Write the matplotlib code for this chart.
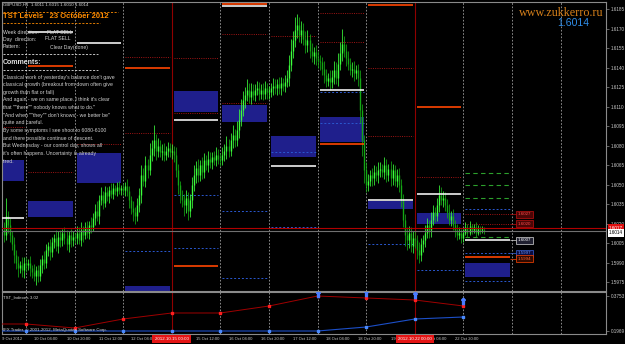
import numpy as np
import matplotlib
matplotlib.use("Agg")
import matplotlib.pyplot as plt
from matplotlib.transforms import blended_transform_factory as blend
from matplotlib.patches import Rectangle
from matplotlib.lines import Line2D

plt.rcParams['font.family'] = ['Liberation Sans', 'DejaVu Sans']

# ---------------- data ----------------
symbol_info = "GBPUSD,H1  1.6011 1.6015 1.6010 1.6014"
title_text = "TST Levels   23 October 2012"
BASE, PIP = 1.5900, 0.0001
first_bar_hour = 13          # hours counted from 9 Oct 00:00 (weekend removed)
first_open_pips = 115
close_pips = [
    111, 126, 119, 111, 104, 96, 90, 86, 88, 84, 90,
    88, 90, 86, 83, 80, 84, 80, 88, 93, 90, 100, 103, 98, 106, 109, 103, 110, 107, 113, 109, 104, 111, 107, 110,
    109, 113, 107, 115, 111, 117, 113, 119, 117, 124, 130, 126, 138, 142, 136, 144, 141, 146, 143, 147, 145, 148, 146, 147,
    146, 149, 145, 138, 132, 129, 126, 134, 142, 157, 153, 165, 161, 173, 178, 184, 176, 180, 175, 176, 173, 176, 178, 175,
    176, 173, 161, 150, 142, 138, 134, 140, 130, 138, 150, 157, 163, 157, 165, 160, 169, 165, 170, 167, 171, 169, 173, 170,
    169, 173, 176, 180, 176, 184, 188, 184, 192, 200, 207, 215, 219, 223, 217, 222, 219, 223, 224, 220, 223, 220, 224, 221,
    221, 224, 226, 224, 227, 224, 228, 226, 229, 232, 242, 253, 261, 269, 273, 265, 269, 262, 257, 261, 253, 249, 252, 247,
    245, 244, 239, 234, 230, 232, 229, 233, 238, 232, 243, 251, 258, 253, 247, 243, 238, 239, 236, 238, 232, 207, 184, 161,
    150, 153, 157, 155, 160, 157, 161, 162, 160, 165, 157, 162, 155, 161, 153, 157, 150, 138, 123, 111, 107, 113, 103, 109,
    107, 100, 96, 104, 107, 113, 119, 115, 123, 129, 126, 134, 142, 138, 140, 134, 129, 123, 126, 119, 115, 111, 113, 109,
    113, 117, 113, 118, 115, 117, 113, 116, 115, 115, 114,
]
wick_up = [
    6, 14, 4, 5, 3, 6, 4, 5, 3, 6, 4,
    4, 3, 5, 2, 6, 3, 4, 5, 3, 6, 4, 3, 5, 4, 3, 6, 4, 5, 3, 4, 6, 3, 5, 4,
    3, 5, 4, 6, 3, 4, 5, 3, 6, 4, 5, 7, 4, 6, 3, 5, 4, 3, 5, 4, 3, 4, 5, 3,
    4, 3, 5, 4, 3, 5, 4, 6, 5, 8, 6, 7, 5, 9, 6, 12, 5, 6, 4, 5, 6, 4, 5, 4,
    5, 4, 6, 5, 3, 4, 5, 6, 4, 5, 6, 8, 5, 7, 4, 6, 5, 4, 6, 5, 4, 5, 6, 4,
    4, 6, 5, 7, 5, 6, 8, 5, 7, 8, 9, 7, 6, 8, 5, 6, 5, 4, 6, 5, 4, 5, 6, 4,
    5, 4, 6, 5, 4, 6, 5, 4, 5, 6, 8, 9, 7, 10, 8, 6, 7, 5, 6, 8, 5, 6, 4, 5,
    6, 5, 4, 6, 5, 4, 6, 5, 7, 6, 8, 9, 12, 6, 5, 6, 4, 5, 6, 4, 5, 6, 5, 4,
    6, 5, 4, 6, 5, 4, 6, 5, 4, 6, 5, 4, 6, 5, 4, 5, 6, 4, 5, 4, 6, 5, 4, 5,
    5, 4, 6, 5, 4, 6, 5, 4, 6, 5, 4, 6, 8, 6, 5, 4, 5, 6, 4, 5, 4, 5, 4, 3,
    3, 4, 3, 4, 2, 3, 4, 3, 2, 3, 2,
]
wick_dn = [
    5, 4, 6, 5, 4, 6, 5, 7, 4, 5, 6,
    5, 4, 6, 5, 4, 7, 5, 4, 6, 5, 4, 5, 6, 4, 5, 4, 6, 5, 4, 5, 4, 6, 5, 4,
    4, 5, 3, 4, 5, 3, 4, 5, 4, 3, 5, 4, 6, 4, 5, 3, 4, 5, 3, 4, 3, 4, 3, 4,
    4, 5, 4, 6, 5, 7, 6, 4, 5, 6, 4, 5, 6, 4, 5, 6, 7, 5, 4, 6, 5, 4, 5, 4,
    5, 6, 5, 7, 6, 5, 8, 6, 7, 5, 6, 5, 6, 5, 4, 6, 5, 4, 5, 4, 5, 4, 5, 4,
    5, 4, 5, 6, 5, 4, 6, 5, 4, 6, 5, 4, 6, 5, 4, 5, 4, 5, 4, 5, 4, 5, 4, 5,
    5, 4, 5, 4, 5, 4, 5, 4, 5, 4, 6, 5, 6, 5, 6, 5, 6, 5, 6, 5, 6, 5, 6, 5,
    5, 6, 5, 6, 5, 4, 6, 5, 6, 5, 6, 5, 6, 5, 6, 5, 4, 5, 6, 5, 6, 10, 12, 10,
    6, 5, 4, 6, 5, 4, 6, 5, 4, 6, 5, 4, 6, 5, 4, 5, 6, 5, 6, 8, 7, 6, 5, 6,
    6, 7, 6, 5, 6, 5, 4, 6, 5, 4, 5, 4, 5, 4, 5, 4, 5, 4, 5, 4, 5, 4, 3, 4,
    3, 2, 3, 2, 3, 2, 3, 2, 3, 2, 2,
]

price_ticks = [1.6185, 1.6170, 1.6155, 1.6140, 1.6125, 1.6110, 1.6095, 1.6080,
               1.6065, 1.6050, 1.6035, 1.6020, 1.6005, 1.5990, 1.5975]
hline_red = 1.60165
hline_red_label = "1.6017"
bid_price = 1.6014
bid_label = "1.6014"

day_separators = [24, 48, 72, 96, 120, 144, 168, 192, 216, 240, 264, 288]
week_lines = [96, 216]
week_line_labels = ["2012.10.15 00:00", "2012.10.22 00:00"]

xtick_hours = [12.2, 28, 44, 60, 76, 108, 124, 140, 156, 172, 188, 204, 220, 236]
xtick_labels = ["9 Oct 2012", "10 Oct 04:00", "10 Oct 20:00", "11 Oct 12:00", "12 Oct 04:00",
                "15 Oct 12:00", "16 Oct 04:00", "16 Oct 20:00", "17 Oct 12:00",
                "18 Oct 04:00", "18 Oct 20:00", "19 Oct 12:00", "22 Oct 04:00", "22 Oct 20:00"]

# daily levels (day index 0 = 9 Oct ... 10 = 23 Oct)
white_days = [0, 1, 2, 4, 5, 6, 7, 8, 9, 10]
white_prices = [1.6024, 1.6167, 1.6159, 1.6100, 1.6187, 1.6064, 1.6123, 1.6038, 1.6043, 1.6007]
orange_days = [1, 3, 4, 5, 7, 8, 9, 10]
orange_prices = [1.6141, 1.6140, 1.5987, 1.6189, 1.6081, 1.6188, 1.6110, 1.5994]
reddot_days = [0, 1, 2, 3, 3, 4, 4, 5, 5, 6, 7, 7, 8, 8, 9, 10, 10]
reddot_prices = [1.6094, 1.6060, 1.6081, 1.6148, 1.6090, 1.6147, 1.6105, 1.6166, 1.6113,
                 1.6164, 1.6182, 1.6160, 1.6140, 1.6087, 1.6056, 1.6027, 1.6020]
bluedot_days = [3, 4, 4, 5, 5, 6, 6, 7, 7, 8, 9, 10, 10, 10]
bluedot_prices = [1.5999, 1.6042, 1.6001, 1.6030, 1.5978, 1.6075, 1.6017, 1.6121, 1.6097,
                  1.6004, 1.5984, 1.6031, 1.5997, 1.5976]
green_days = [10, 10, 10, 10]
green_prices = [1.6059, 1.6050, 1.6040, 1.6010]
box_days = [0, 1, 2, 3, 4, 5, 6, 7, 8, 9, 10]
box_tops = [1.6069, 1.6037, 1.6074, 1.5972, 1.6122, 1.6111, 1.6087, 1.6102, 1.6037, 1.6028, 1.5990]
box_bottoms = [1.6053, 1.6025, 1.6051, 1.5960, 1.6106, 1.6098, 1.6071, 1.6083, 1.6031, 1.6020, 1.5979]

tag_prices = [1.6027, 1.6020, 1.6007, 1.5997, 1.5993]
tag_texts = ["1.6027", "1.6020", "1.6007", "1.5997", "1.5994"]
tag_kinds = ["red", "red", "white", "blue", "orange"]

# indicator panel
ind_hours = [0, 24, 48, 72, 96, 120, 144, 168, 192, 216, 240]
ind_red = [0.2326, 0.2326, 0.2122, 0.2581, 0.2887, 0.2887, 0.3243, 0.3753, 0.3651, 0.3549, 0.3243]
ind_blue = [0.1969, 0.1969, 0.1969, 0.1969, 0.1969, 0.1969, 0.1969, 0.1969, 0.2173, 0.2581, 0.2683]
arrow_hours = [168, 192, 216, 240]
arrow_vals = [0.3880, 0.3920, 0.3790, 0.3480]
ind_ticks = [0.3753, 0.1969]

info_rows = [("Week direction:", "FLAT SELL"), ("Day  direction:", "FLAT SELL"),
             ("Pattern:", "Clear Day(done)")]
comment_lines = [
    "Classical work of yesterday's balance don't gave",
    "classical growth (breakout from down often give",
    "growth than flat or fall)",
    "And again - we on same place. I think it's clear",
    'that ""there"" nobody knows what to do."',
    '"And when ""they"" don\'t knows - we better be"',
    "quite and careful.",
    "By some symptoms I see shoot to 6080-6100",
    "and there possible continue of descent.",
    "But Wednesday - our control day, shows all",
    "it's often happens. Uncertainty is already",
    "tired.",
]

# ---------------- figure ----------------
W, H = 625, 344
fig = plt.figure(figsize=(W / 100, H / 100), dpi=100, facecolor='black')


def fx(x):
    return x / W


def fy(y):
    return 1 - y / H


ax = fig.add_axes([fx(2), fy(291), (606 - 2) / W, (291 - 2) / H], facecolor='black')
ax2 = fig.add_axes([fx(2), fy(334), (606 - 2) / W, (334 - 292) / H], facecolor='black')
XLIM = (12.15, 310.4)
for a in (ax, ax2):
    a.set_xlim(*XLIM)
    a.set_xticks([])
    for s in a.spines.values():
        s.set_color('#8a8a8a')
        s.set_linewidth(0.8)
    a.tick_params(axis='y', which='both', right=True, left=False, labelright=True,
                  labelleft=False, length=2, width=0.5, color='#8a8a8a',
                  labelsize=3.3, labelcolor='#c8c8c8', pad=1.2)
ax.set_ylim(1.59681, 1.61904)
ax2.set_ylim(0.1816, 0.3957)
ax.set_yticks(price_ticks)
ax.set_yticklabels([f"{p:.4f}" for p in price_ticks])
ax2.set_yticks(ind_ticks)
ax2.set_yticklabels([f"{v:.4f}" for v in ind_ticks])

# separators
for a in (ax, ax2):
    for h in day_separators:
        a.axvline(h, color='#a0a0a0', lw=0.6, ls=(0, (2, 2)), zorder=0.5)
    for h in week_lines:
        a.axvline(h, color='#900000', lw=0.8, zorder=0.6)

# boxes
for d, t, b in zip(box_days, box_tops, box_bottoms):
    ax.add_patch(Rectangle((24 * d + 1, b), 22, t - b, facecolor='#1f1f8c',
                           edgecolor='none', zorder=1))


def segs(days, prices, **kw):
    d = np.array(days)
    ax.hlines(prices, 24 * d + 1, 24 * d + 23, **kw)


segs(reddot_days, reddot_prices, colors='#a01414', lw=0.7, linestyles=[(0, (1, 1.3))], zorder=2)
segs(bluedot_days, bluedot_prices, colors='#2a58d0', lw=0.7, linestyles=[(0, (2, 2))], zorder=2)
segs(green_days, green_prices, colors='#2ca02c', lw=0.8, linestyles=[(0, (4, 3))], zorder=2)

# candles
closes = np.array(close_pips, float)
opens = np.concatenate([[first_open_pips], closes[:-1]])
hours = np.arange(first_bar_hour, first_bar_hour + len(closes))
hi = np.maximum(opens, closes) + np.array(wick_up)
lo = np.minimum(opens, closes) - np.array(wick_dn)
bull = closes >= opens
cols = np.where(bull, '#3cff3c', '#14a814')
ax.vlines(hours, BASE + lo * PIP, BASE + hi * PIP, colors=cols, lw=0.55, zorder=3)
btop = np.maximum(opens, closes)
bbot = np.minimum(opens, closes)
btop = np.where(btop - bbot < 0.6, bbot + 0.6, btop)
ax.vlines(hours, BASE + bbot * PIP, BASE + btop * PIP, colors=cols, lw=1.0, zorder=3)

# solid levels on top
segs(white_days, white_prices, colors='#f0f0f0', lw=1.2, zorder=4)
segs(orange_days, orange_prices, colors='#ff4500', lw=1.2, zorder=4)

# horizontal lines
ax.axhline(hline_red, color='#b00000', lw=0.8, zorder=4.5)
ax.axhline(bid_price, color='#707070', lw=0.8, zorder=4.4)

# level tags at right of current day
tag_style = {
    "red": ('#ff4a4a', '#4a0606', '#c01010'),
    "white": ('#ffffff', '#202030', '#d8d8d8'),
    "blue": ('#6a98ff', '#0c0c40', '#3a64d8'),
    "orange": ('#ff6030', '#300a00', '#ff4500'),
}
for p, txt, k in zip(tag_prices, tag_texts, tag_kinds):
    tc, fc, ec = tag_style[k]
    ax.hlines(p, 263, 266.3, colors=ec, lw=0.5, zorder=4)
    ax.text(266.8, p, txt, fontsize=3.2, color=tc, ha='left', va='center', zorder=6,
            bbox=dict(boxstyle='square,pad=0.35', fc=fc, ec=ec, lw=0.5))

# right axis current price tags
trR = blend(ax.transAxes, ax.transData)
ax.text(1.005, hline_red, hline_red_label, transform=trR, fontsize=3.3, color='white',
        ha='left', va='center', clip_on=False, zorder=7,
        bbox=dict(boxstyle='square,pad=0.3', fc='#e01010', ec='none'))
ax.text(1.005, bid_price - 0.00012, bid_label, transform=trR, fontsize=3.3, color='black',
        ha='left', va='center', clip_on=False, zorder=8,
        bbox=dict(boxstyle='square,pad=0.3', fc='white', ec='none'))

# indicator
ax2.plot(ind_hours, ind_red, color='#a00000', lw=0.7, marker='s', ms=1.8,
         mfc='#ff2020', mec='#ff2020', zorder=4)
ax2.plot(ind_hours, ind_blue, color='#1c4fc8', lw=0.8, marker='s', ms=1.6,
         mfc='#4a8aff', mec='#4a8aff', zorder=4)
ax2.plot(arrow_hours, arrow_vals, ls='none', marker=r'$\Uparrow$', ms=4.5,
         color='#4a7cff', zorder=5)

# time labels
trX = blend(ax2.transData, ax2.transAxes)
for h, lab in zip(xtick_hours, xtick_labels):
    ax2.text(h, -0.12, lab, transform=trX, ha='left', va='center', fontsize=3.0,
             color='#c8c8c8', clip_on=False, zorder=3)
for h, lab in zip(week_lines, week_line_labels):
    ax2.text(h, -0.12, lab, transform=trX, ha='center', va='center', fontsize=3.2,
             color='white', clip_on=False, zorder=6,
             bbox=dict(boxstyle='square,pad=0.55', fc='#e41414', ec='none'))

# ---------------- overlay texts ----------------
fig.text(fx(3), fy(5), symbol_info, fontsize=3.2, color='#d8d8d8', ha='left', va='center')
fig.add_artist(Line2D([fx(3), fx(118)], [fy(12)] * 2, color='#ff8c00', lw=0.6, ls=(0, (2.5, 1.8))))
fig.text(fx(3), fy(17), title_text, fontsize=5.5, fontweight='bold', color='#ff8c00',
         ha='left', va='center')
fig.add_artist(Line2D([fx(3), fx(100)], [fy(23)] * 2, color='#ff8c00', lw=0.6, ls=(0, (2.5, 1.8))))
row_y = [32, 39, 47]
val_x = [47, 45, 50]
for (lab, val), y, vx in zip(info_rows, row_y, val_x):
    fig.text(fx(3), fy(y), lab, fontsize=3.7, color='#d0d0d0', ha='left', va='center')
    fig.text(fx(vx), fy(y), val, fontsize=3.7, color='#d0d0d0', ha='left', va='center')
fig.add_artist(Line2D([fx(3), fx(98)], [fy(54)] * 2, color='#e0e0e0', lw=0.6, ls=(0, (2.5, 1.8))))
fig.text(fx(3), fy(62), "Comments:", fontsize=5.0, fontweight='bold', color='#e0e0e0',
         ha='left', va='center')
fig.add_artist(Line2D([fx(3), fx(98)], [fy(70)] * 2, color='#e0e0e0', lw=0.6, ls=(0, (2.5, 1.8))))
for i, line in enumerate(comment_lines):
    fig.text(fx(3), fy(77 + 7.64 * i), line, fontsize=3.7, color='#d0d0d0', ha='left', va='center')

fig.text(fx(519), fy(13.5), "www.zukkerro.ru", family='Liberation Serif', fontsize=8.7,
         color='#d7801a', ha='left', va='center')
fig.text(fx(557), fy(23), bid_label, fontsize=7.6, color='#2f8de8', ha='left', va='center')

fig.text(fx(3), fy(297), "TST_Indexes 3.02", fontsize=3.2, color='#d0d0d0', ha='left', va='center')
fig.text(fx(3), fy(330), "IFX Trader, \u00a9 2001-2012, MetaQuotes Software Corp.", fontsize=3.2,
         color='#d0d0d0', ha='left', va='center')

fig.savefig("out.png", dpi=100, facecolor='black')
